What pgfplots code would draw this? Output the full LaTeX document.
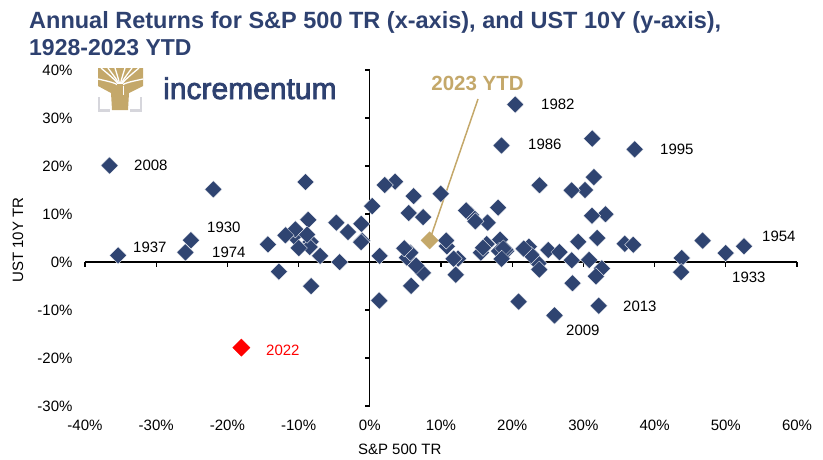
\documentclass[border=0pt]{standalone}
\usepackage{fontspec}
\setmainfont{Liberation Sans}
\newfontfamily\logofont[FakeBold=2.5]{Liberation Sans}
\usepackage{pgfplots}
\usepackage{pgfplotstable}
\pgfplotsset{compat=1.18}
\definecolor{navy}{HTML}{2F4471}
\definecolor{titlenavy}{HTML}{2E4170}
\definecolor{gold}{HTML}{C4A86A}
\definecolor{logogrey}{HTML}{D6D6DC}

% S&P 500 TR (x) vs UST 10Y TR (y), annual, in %
\pgfplotstableread{
x y
43.81 0.84
-8.30 4.20
-25.12 4.54
-8.64 8.79
49.98 1.86
-1.19 7.96
46.74 4.47
31.94 5.02
-35.34 1.38
29.28 4.21
-1.10 4.41
-10.67 5.40
-12.77 -2.02
19.17 2.29
25.06 2.49
19.03 2.58
35.82 3.80
-8.43 3.13
5.20 0.92
5.70 1.95
18.30 4.66
30.81 0.43
23.68 -0.30
18.15 2.27
-1.21 4.14
52.56 3.29
32.60 -1.34
7.44 -2.26
-10.46 6.80
43.72 -2.10
12.06 -2.65
0.34 11.64
26.64 2.06
-8.81 5.69
22.61 1.68
16.42 3.73
12.40 0.72
-9.97 2.91
23.80 -1.58
10.81 3.27
-8.24 -5.01
3.56 16.75
14.22 9.79
18.76 2.82
-14.31 3.66
-25.90 1.99
37.00 3.61
23.83 15.98
-6.98 1.29
6.51 -0.78
18.52 0.67
31.74 -2.99
-4.70 8.20
20.42 32.81
22.34 3.20
6.15 13.73
31.24 25.71
18.49 24.28
5.81 -4.96
16.54 8.22
31.48 17.69
-3.06 6.24
30.23 15.00
7.49 9.36
9.97 14.21
1.33 -8.04
37.20 23.48
22.68 1.43
33.10 9.94
28.34 14.92
20.89 -8.25
-9.03 16.66
-11.85 5.57
-21.97 15.12
28.36 0.38
10.74 4.49
4.83 2.87
15.61 1.96
5.48 10.21
-36.55 20.10
25.94 -11.12
14.82 8.46
2.10 16.04
15.89 2.97
32.15 -9.10
13.52 10.75
1.38 1.28
11.77 0.69
21.61 2.80
-4.23 -0.02
31.21 9.64
18.02 11.33
28.47 -4.42
}\spdata

\begin{document}
\begin{tikzpicture}
\path[use as bounding box] (0,0) rectangle (823pt,-459pt);

% title
\node[anchor=base west,inner sep=0,text=titlenavy,font=\fontsize{23.5}{27}\selectfont\bfseries]
  at (29pt,-28pt) {Annual Returns for S\&P 500 TR (x-axis), and UST 10Y (y-axis),};
\node[anchor=base west,inner sep=0,text=titlenavy,font=\fontsize{23}{27}\selectfont\bfseries]
  at (29pt,-55pt) {1928-2023 YTD};

\begin{axis}[at={(85pt,-406pt)},anchor=south west,
  scale only axis,width=712pt,height=336pt,
  xmin=-40,xmax=60,ymin=-30,ymax=40,clip=false,
  axis line style={draw=none},major tick length=0pt,
  xtick={-40,-30,...,60},ytick={-30,-20,...,40},
  xticklabel={\pgfmathprintnumber{\tick}\%},
  yticklabel={\pgfmathprintnumber{\tick}\%},
  /pgf/number format/assume math mode=true,
  tick label style={font=\fontsize{15}{18}\selectfont},
  xticklabel style={yshift=-10pt},
  yticklabel style={xshift=-9pt},
  xlabel={S\&P 500 TR},ylabel={UST 10Y TR},
  label style={font=\fontsize{15}{18}\selectfont},
  xlabel style={at={(axis description cs:0.442,-0.128)},anchor=center},
  ylabel style={at={(axis description cs:-0.094,0.494)},anchor=center}]
% zero-crossing axes with ticks
\draw[black,line width=1.3pt] (axis cs:-40,0) -- (axis cs:60,0);
\draw[black,line width=1.3pt] (axis cs:0,-30) -- (axis cs:0,40);
\pgfplotsinvokeforeach{-40,-30,-20,-10,0,10,20,30,40,50,60}{
  \draw[black,line width=1.3pt] (axis cs:#1,0) -- ++(0pt,-5pt);}
\pgfplotsinvokeforeach{-30,-20,-10,0,10,20,30,40}{
  \draw[black,line width=1.3pt] (axis cs:0,#1) -- ++(-5pt,0pt);}
% leader line for 2023 YTD
\draw[gold,line width=1.5pt] (axis cs:15.2,33.96) -- (axis cs:8.4,4.5);
\addplot[only marks,mark=square*,mark size=6.1pt,
  mark options={rotate=45,fill=navy,draw=white,line width=0.3pt}] table {\spdata};
\addplot[only marks,mark=square*,mark size=6.1pt,
  mark options={rotate=45,fill=red,draw=red}] coordinates {(-18.04,-17.83)};
\addplot[only marks,mark=square*,mark size=6.1pt,
  mark options={rotate=45,fill=gold,draw=gold}] coordinates {(8.4,4.5)};
\end{axis}

% point labels
\begin{scope}[every node/.style={anchor=west,inner sep=0,font=\fontsize{15}{18}\selectfont}]
\node at (134pt,-165pt) {2008};
\node at (207pt,-227pt) {1930};
\node at (133pt,-247.5pt) {1937};
\node at (212pt,-252.5pt) {1974};
\node at (541pt,-104pt) {1982};
\node at (528pt,-144.5pt) {1986};
\node at (660pt,-149pt) {1995};
\node at (762pt,-236pt) {1954};
\node at (732pt,-277.5pt) {1933};
\node at (623pt,-306pt) {2013};
\node at (566pt,-330pt) {2009};
\node[text=red] at (266pt,-350pt) {2022};
\end{scope}
\node[anchor=center,inner sep=0,text=gold,font=\fontsize{20.5}{24}\selectfont\bfseries]
  at (477.5pt,-83.5pt) {2023 YTD};

% logo: gold tree block with white branch gaps, grey corner brackets
\fill[gold] (98pt,-68pt) -- (143pt,-68pt) -- (143pt,-86pt) -- (129pt,-93pt)
  -- (128pt,-110pt) -- (112pt,-110pt) -- (111pt,-93pt) -- (98pt,-86pt) -- cycle;
\foreach \tx/\ty in {98/79,101/68,108/68,115/68,125/68,132/68,139/68,143/79}
  \draw[white,line width=1.3pt] (120pt,-94pt) .. controls (120pt,-84pt) .. (\tx pt,-\ty pt);
\fill[white] (116.5pt,-95pt) rectangle (123.5pt,-86pt);
\fill[gold] (117pt,-98pt) rectangle (123pt,-84pt);
\draw[logogrey,line width=2.6pt] (99pt,-97pt) -- (99pt,-110.5pt) -- (110pt,-110.5pt);
\draw[logogrey,line width=2.6pt] (130pt,-110.5pt) -- (141pt,-110.5pt) -- (141pt,-97pt);
\node[anchor=base west,inner sep=0,text=titlenavy,font=\logofont\fontsize{30}{34}\selectfont]
  at (163pt,-99pt) {incrementum};
\end{tikzpicture}
\end{document}
